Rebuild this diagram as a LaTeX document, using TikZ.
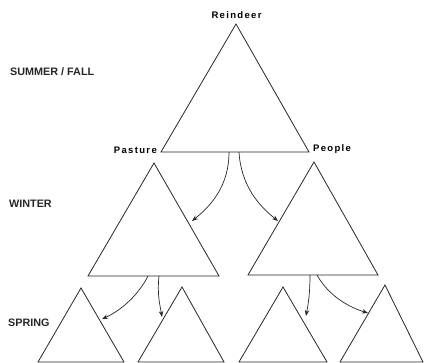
\documentclass[tikz,border=0pt]{standalone}
\usepackage{fontspec}
\newfontfamily\labfont[LetterSpace=14]{Liberation Sans}
\newfontfamily\seasonfont{Liberation Sans}
\usetikzlibrary{arrows.meta}
\begin{document}
\begin{tikzpicture}[x=1pt,y=-1pt,
  tri/.style={draw=black!85,line width=0.8pt,line join=miter},
  conn/.style={draw=black!85,line width=0.7pt,-{Stealth[length=6pt,width=4.5pt]}},
  lab/.style={inner sep=0pt,font=\labfont\fontsize{9.5}{11}\selectfont\bfseries},
  season/.style={inner sep=0pt,font=\seasonfont\fontsize{10.8}{12}\selectfont\bfseries,text=black!85}]
\useasboundingbox (0,0) rectangle (424,363);
% top triangle
\coordinate (Tt) at (236,24); \coordinate (Tl) at (161,152); \coordinate (Tr) at (309,152);
\draw[tri] (Tt) -- (Tl) -- (Tr) -- cycle;
% winter
\coordinate (Lt) at (154,163); \coordinate (Ll) at (88,276); \coordinate (Lr) at (219,276);
\draw[tri] (Lt) -- (Ll) -- (Lr) -- cycle;
\coordinate (Rt) at (314,162); \coordinate (Rl) at (248,275); \coordinate (Rr) at (378,275);
\draw[tri] (Rt) -- (Rl) -- (Rr) -- cycle;
% spring
\coordinate (S1t) at (81,288); \coordinate (S1l) at (38,362); \coordinate (S1r) at (124,362);
\draw[tri] (S1t) -- (S1l) -- (S1r) -- cycle;
\coordinate (S2t) at (182,287); \coordinate (S2l) at (138,362); \coordinate (S2r) at (224,362);
\draw[tri] (S2t) -- (S2l) -- (S2r) -- cycle;
\coordinate (S3t) at (283,287); \coordinate (S3l) at (239,362); \coordinate (S3r) at (327,362);
\draw[tri] (S3t) -- (S3l) -- (S3r) -- cycle;
\coordinate (S4t) at (385,285); \coordinate (S4l) at (340,362); \coordinate (S4r) at (423,362);
\draw[tri] (S4t) -- (S4l) -- (S4r) -- cycle;
% labels
\node[lab,anchor=base] (reindeer) at (236.5,19) {Reindeer};
\node[lab,anchor=base east] (pasture) at (157,154) {Pasture};
\node[lab,anchor=base west] (people) at (313,152) {People};
\node[season,anchor=base west] (summer) at (10,76) {SUMMER / FALL};
\node[season,anchor=base west] (winter) at (9,208) {WINTER};
\node[season,anchor=base west] (spring) at (8,327) {SPRING};
% connectors
\coordinate (a1s) at (229,152); \coordinate (a1e) at (192,221);
\coordinate (a2s) at (239,152); \coordinate (a2e) at (278,221);
\coordinate (a3s) at (148,276); \coordinate (a3e) at (102,319);
\coordinate (a4s) at (159,276); \coordinate (a4e) at (162,317);
\coordinate (a5s) at (310,275); \coordinate (a5e) at (306,316);
\coordinate (a6s) at (317,275); \coordinate (a6e) at (368,313);
\draw[conn] (a1s) .. controls (229,185) and (212,205) .. (a1e);
\draw[conn] (a2s) .. controls (241,185) and (258,205) .. (a2e);
\draw[conn] (a3s) .. controls (138,296) and (120,311) .. (a3e);
\draw[conn] (a4s) .. controls (157,295) and (160,305) .. (a4e);
\draw[conn] (a5s) .. controls (310,295) and (308,305) .. (a5e);
\draw[conn] (a6s) .. controls (328,295) and (348,307) .. (a6e);
\end{tikzpicture}
\end{document}
